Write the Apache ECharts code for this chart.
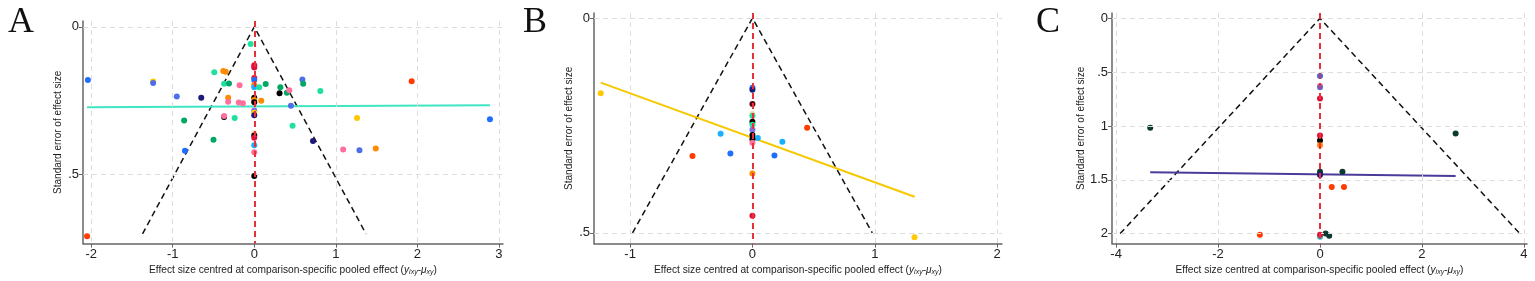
<!DOCTYPE html>
<html>
<head>
<meta charset="utf-8">
<script src="https://cdn.jsdelivr.net/npm/echarts@6/dist/echarts.min.js"></script>
<style>
	html, body { margin: 0; padding: 0; background: #fff; }
	#main { width: 1535px; height: 281px; }
</style>
</head>
<body>
<div id="main"></div>
<script>
// colour of each comparison (index used as 3rd value of a point)
var palette = ['#1f6fff', '#ff3b00', '#ffc800', '#4f6fe8', '#1c1a78', '#00a865', '#20e0a0', '#ff8a00',
	'#ff6f9c', '#e0103c', '#000000', '#18b0ff', '#5a0010', '#f8d8a8', '#7a70e8', '#0a3a30', '#00d0e0'];

// panel A  [x, se, comparison]
var pointsA = [
	[-2.04, 0.18, 0], [-2.05, 0.708, 1], [-1.24, 0.185, 2], [-1.24, 0.19, 3], [-0.95, 0.235, 3],
	[-0.65, 0.24, 4], [-0.86, 0.317, 5], [-0.50, 0.382, 5], [-0.85, 0.419, 0], [-0.49, 0.153, 6],
	[-0.38, 0.149, 7], [-0.35, 0.152, 7], [-0.37, 0.192, 6], [-0.31, 0.191, 5], [-0.18, 0.197, 8],
	[-0.32, 0.24, 7], [-0.32, 0.253, 8], [-0.19, 0.256, 8], [-0.14, 0.258, 8], [-0.37, 0.305, 10],
	[-0.37, 0.301, 8], [-0.24, 0.308, 6], [-0.045, 0.058, 6],
	[0, 0.13, 9], [0, 0.137, 9], [0, 0.173, 9], [0, 0.18, 0], [0, 0.196, 7], [0, 0.204, 11],
	[0, 0.24, 10], [0, 0.247, 7], [0, 0.255, 10], [0, 0.283, 14], [0, 0.29, 2], [0, 0.299, 4],
	[0, 0.36, 13], [0, 0.367, 10], [0, 0.375, 9], [0, 0.40, 11], [0, 0.424, 8], [0, 0.504, 10],
	[0.06, 0.204, 6], [0.14, 0.193, 5], [0.32, 0.204, 5], [0.31, 0.224, 10], [0.40, 0.223, 5],
	[0.43, 0.214, 8], [0.59, 0.178, 3], [0.60, 0.192, 5], [0.81, 0.217, 6], [1.93, 0.184, 1],
	[0.086, 0.25, 7], [0.45, 0.267, 3], [1.26, 0.308, 2], [0.47, 0.334, 6], [0.72, 0.386, 4],
	[1.09, 0.415, 8], [1.29, 0.417, 3], [1.49, 0.411, 7], [2.89, 0.312, 0]
];
var fitAx = [-2.05, 2.89];
var fitAy = [0.272, 0.265];
var funnelAx = [-1.37, 0, 1.37];
var funnelAy = [0.70, 0, 0.70];
var ticksAx = [-2, -1, 0, 1, 2, 3];
var ticksAy = [0, 0.5];

// panel B
var pointsB = [
	[-1.24, 0.175, 2], [1.325, 0.51, 2], [-0.49, 0.321, 1], [-0.26, 0.269, 11], [-0.18, 0.315, 0],
	[0.044, 0.279, 11], [0.18, 0.32, 0], [0.245, 0.288, 11], [0.447, 0.255, 1],
	[0, 0.162, 0], [0, 0.167, 4], [0, 0.2, 12], [0, 0.223, 13], [0, 0.227, 6], [0, 0.241, 10],
	[0, 0.248, 6], [0, 0.26, 14], [0, 0.272, 10], [0, 0.282, 10], [0, 0.29, 8], [0, 0.362, 7],
	[0, 0.46, 9]
];
var fitBx = [-1.24, 1.325];
var fitBy = [0.15, 0.416];
var funnelBx = [-0.98, 0, 0.98];
var funnelBy = [0.5, 0, 0.5];
var ticksBx = [-1, 0, 1, 2];
var ticksBy = [0, 0.5];

// panel C
var pointsC = [
	[-3.33, 1.017, 15], [-1.18, 2.01, 1], [2.66, 1.07, 15], [0.44, 1.426, 15], [0.23, 1.566, 1],
	[0.47, 1.566, 1], [0.11, 2.0, 15], [0.18, 2.02, 15],
	[0, 0.536, 0], [0, 0.628, 8], [0, 0.64, 3], [0, 0.745, 9], [0, 1.088, 9], [0, 1.134, 10],
	[0, 1.18, 7], [0, 1.425, 15], [0, 1.456, 4], [0, 2.03, 16], [0, 2.01, 9]
];
var fitCx = [-3.33, 2.66];
var fitCy = [1.43, 1.465];
var funnelCx = [-3.92, 0, 3.92];
var funnelCy = [2, 0, 2];
var ticksCx = [-4, -2, 0, 2, 4];
var ticksCy = [0, 0.5, 1, 1.5, 2];

var panels = [
	{ letter: 'A', pts: pointsA, fx: fitAx, fy: fitAy, fc: '#3ee6c2', ux: funnelAx, uy: funnelAy, tx: ticksAx, ty: ticksAy,
		grid: { left: 83, top: 21, width: 420, height: 226 }, xr: [-2.1, 3.05], yr: [-0.02, 0.733], ng: 20, lx: 3 },
	{ letter: 'B', pts: pointsB, fx: fitBx, fy: fitBy, fc: '#f5c800', ux: funnelBx, uy: funnelBy, tx: ticksBx, ty: ticksBy,
		grid: { left: 594, top: 13, width: 408, height: 233 }, xr: [-1.295, 2.04], yr: [-0.012, 0.525], ng: 20, lx: 518 },
	{ letter: 'C', pts: pointsC, fx: fitCx, fy: fitCy, fc: '#4a3a9a', ux: funnelCx, uy: funnelCy, tx: ticksCx, ty: ticksCy,
		grid: { left: 1112, top: 13, width: 415, height: 233 }, xr: [-4.08, 4.06], yr: [-0.05, 2.093], ng: 26, lx: 1031 }
];

var nameFont = 'Liberation Sans';

function fmt(v) {
	return String(v).replace(/^0\./, '.').replace(/^-0\./, '-.');
}
function pairs(xs, ys) {
	var out = [];
	for (var i = 0; i < xs.length; i++) out.push([xs[i], ys[i]]);
	return out;
}

var grids = [], xAxes = [], yAxes = [], series = [], titles = [];
var gridLine = { color: '#dcdcdc', width: 1, type: [5, 4] };

panels.forEach(function(p, i) {
	grids.push(p.grid);
	titles.push({
		text: p.letter, left: p.lx, top: 0,
		textStyle: { fontFamily: 'Liberation Serif', fontSize: 36, fontWeight: 'normal', color: '#111' }
	});
	xAxes.push({
		type: 'value', gridIndex: i, min: p.xr[0], max: p.xr[1],
		name: '{t|Effect size centred at comparison-specific pooled effect (}{i|y}{s|ixy}{t|-}{i|μ}{s|xy}{t|)}',
		nameLocation: 'middle', nameGap: 21,
		nameTextStyle: {
			rich: {
				t: { fontSize: 10.2, color: '#222', fontFamily: nameFont },
				i: { fontSize: 10.2, color: '#222', fontStyle: 'italic', fontFamily: nameFont },
				s: { fontSize: 7, color: '#222', fontStyle: 'italic', fontFamily: nameFont, padding: [4, 0, 0, 0] }
			}
		},
		axisLine: { show: true, onZero: false, lineStyle: { color: '#666', width: 1.5 } },
		axisTick: { show: true, length: 4, customValues: p.tx, lineStyle: { color: '#666' } },
		axisLabel: { customValues: p.tx, formatter: fmt, color: '#222', fontSize: 13, margin: 4, fontFamily: 'Liberation Sans' },
		splitLine: { show: false }
	});
	yAxes.push({
		type: 'value', gridIndex: i, min: p.yr[0], max: p.yr[1], inverse: true,
		name: 'Standard error of effect size', nameLocation: 'middle', nameGap: p.ng, nameRotate: 90,
		nameTextStyle: { fontSize: 10, color: '#222', fontFamily: nameFont },
		axisLine: { show: true, onZero: false, lineStyle: { color: '#666', width: 1.5 } },
		axisTick: { show: true, length: 4, customValues: p.ty, lineStyle: { color: '#666' } },
		axisLabel: { customValues: p.ty, formatter: fmt, color: '#222', fontSize: 13, margin: 4, fontFamily: 'Liberation Sans' },
		splitLine: { show: false }
	});

	// dashed grid lines + red null line
	var ml = [];
	p.tx.forEach(function(v) { if (v !== 0) ml.push({ xAxis: v, lineStyle: gridLine }); });
	p.ty.forEach(function(v) { ml.push({ yAxis: v, lineStyle: gridLine }); });
	ml.push({ xAxis: 0, lineStyle: { color: '#e8303a', width: 2, type: [6, 4] } });
	series.push({
		type: 'line', xAxisIndex: i, yAxisIndex: i, data: [], z: 1, silent: true,
		markLine: { silent: true, symbol: 'none', label: { show: false }, animation: false, data: ml }
	});

	// funnel
	series.push({
		type: 'line', xAxisIndex: i, yAxisIndex: i, data: pairs(p.ux, p.uy), z: 2,
		showSymbol: false, symbol: 'none', lineStyle: { color: '#111', width: 1.5, type: [6, 4] }
	});
	// points
	series.push({
		type: 'scatter', xAxisIndex: i, yAxisIndex: i, data: p.pts, z: 4, symbolSize: 6,
		itemStyle: { opacity: 1, color: function(d) { return palette[d.value[2]]; } }
	});
	// fitted line
	series.push({
		type: 'line', xAxisIndex: i, yAxisIndex: i, data: pairs(p.fx, p.fy), z: 3,
		showSymbol: false, symbol: 'none', lineStyle: { color: p.fc, width: 2 }
	});
});

var myChart = echarts.init(document.getElementById('main'));
myChart.setOption({
	animation: false,
	backgroundColor: '#fff',
	title: titles,
	grid: grids,
	xAxis: xAxes,
	yAxis: yAxes,
	series: series
});
</script>
</body>
</html>
